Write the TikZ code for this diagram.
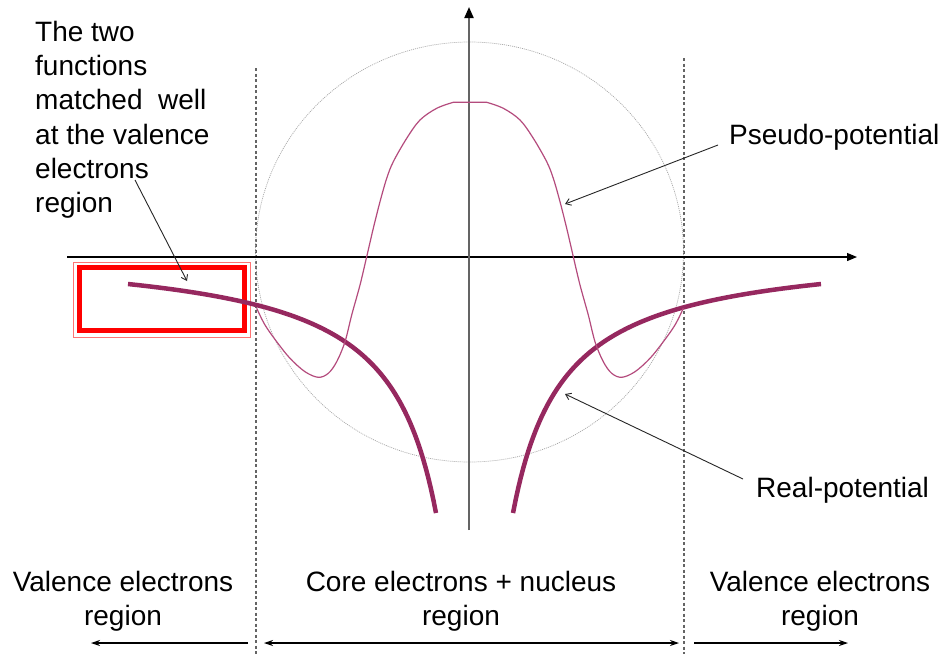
\documentclass[tikz,border=0pt]{standalone}
\usepackage{fontspec}
\setmainfont{Liberation Sans}
\usetikzlibrary{arrows.meta,calc}
\definecolor{realc}{RGB}{150,40,95}
\definecolor{pseudoc}{RGB}{180,75,125}
\definecolor{axisgray}{RGB}{100,100,100}
\tikzset{
  txt/.style={inner sep=0pt, font=\fontsize{28}{34.2}\selectfont},
  ptr/.style={line width=0.9pt, black!85, -{Straight Barb[length=5pt,width=7pt]}},
  regarrow/.style={line width=1.2pt, black},
  divline/.style={line width=1.1pt, axisgray, dash pattern=on 3pt off 2.5pt},
  realpot/.style={realc, line width=4.5pt},
  pseudopot/.style={pseudoc, line width=1.2pt},
  corecircle/.style={gray!70, line width=0.7pt, dash pattern=on 1pt off 1pt}
}
\begin{document}
\begin{tikzpicture}[x=1pt,y=-1pt]
\useasboundingbox[fill=white] (0,0) rectangle (947,654);

% region dividers
\draw[divline] (256,68) -- (256,654);
\draw[divline] (684,58) -- (684,654);

% core circle
\draw[corecircle] (469.5,252) ellipse[x radius=214, y radius=210];

% axes
\draw[line width=1.2pt, -{Triangle[length=10pt,width=8pt]}] (67,257) -- (857,257);
\draw[line width=2pt, axisgray, -{Triangle[length=11pt,width=9pt,color=black]}] (469,530) -- (469,7);

% red box
\draw[red!55, line width=0.8pt] (73,262) rectangle (250,337);
\draw[red, line width=4.5pt] (79.5,267.5) rectangle (244.5,330.5);

% real potential
\draw[realpot] plot[domain=128:436, samples=120] (\x, {246.4+13486/(486.58-\x)});
\draw[realpot] plot[domain=513:821, samples=120] (\x, {246.4+13486/(\x-462.42)});

% pseudo potential
\draw[pseudopot] plot[smooth, tension=0.55] coordinates {(256.7,308.3) (265,325) (276.7,341.7) (290,358.3) (305,371.7) (318.3,377.3) (328.3,373.3) (336.7,361.7) (345,341.7) (351.7,315) (360,285) (366.7,256.7) (373.3,228.3) (380,201.7) (386.7,178.3) (393.3,161.7) (406.7,138.3) (420,120) (436.7,108.3) (453.3,102.3)}
  -- plot[smooth, tension=0.55] coordinates {(486.7,102.3) (503.3,108.3) (520,120) (533.3,138.3) (546.7,161.7) (553.3,178.3) (560,201.7) (566.7,228.3) (573.3,256.7) (580,285) (588.3,315) (595,341.7) (603.3,361.7) (611.7,373.3) (621.7,377.3) (635,371.7) (650,358.3) (663.3,341.7) (675,325) (683.3,308.3)};

% labels
\node[txt, anchor=north west, align=left] (note) at (35,21) {The two\\functions\\matched\ \ well\\at the valence\\electrons\\region};
\node[txt, anchor=base west] (pl) at (729,144) {Pseudo-potential};
\node[txt, anchor=base west] (rl) at (756,497) {Real-potential};

\node[txt, anchor=north, align=center] (lv) at (123,571) {Valence electrons\\region};
\node[txt, anchor=north, align=center] (cr) at (461,571) {Core electrons + nucleus\\region};
\node[txt, anchor=north, align=center] (rv) at (820,571) {Valence electrons\\region};

% pointer arrows
\coordinate (notetail) at (135,180);
\coordinate (notetip) at (187,281);
\coordinate (ptip) at (565,204);
\coordinate (rtip) at (565,394);
\draw[ptr] (notetail) -- (notetip);
\draw[ptr] ($(pl.base west)+(-11,1)$) -- (ptip);
\draw[ptr] ($(rl.base west)+(-13,-18)$) -- (rtip);

% region arrows
\coordinate (la) at (248,643);
\coordinate (lb) at (91,643);
\coordinate (ma) at (264,643);
\coordinate (mb) at (679,643);
\coordinate (ra) at (694,643);
\coordinate (rb) at (848,643);
\draw[regarrow, -{Stealth[length=9pt,width=6pt]}] (la) -- (lb);
\draw[regarrow, {Stealth[length=9pt,width=6pt]}-{Stealth[length=9pt,width=6pt]}] (ma) -- (mb);
\draw[regarrow, -{Stealth[length=9pt,width=6pt]}] (ra) -- (rb);
\end{tikzpicture}
\end{document}
